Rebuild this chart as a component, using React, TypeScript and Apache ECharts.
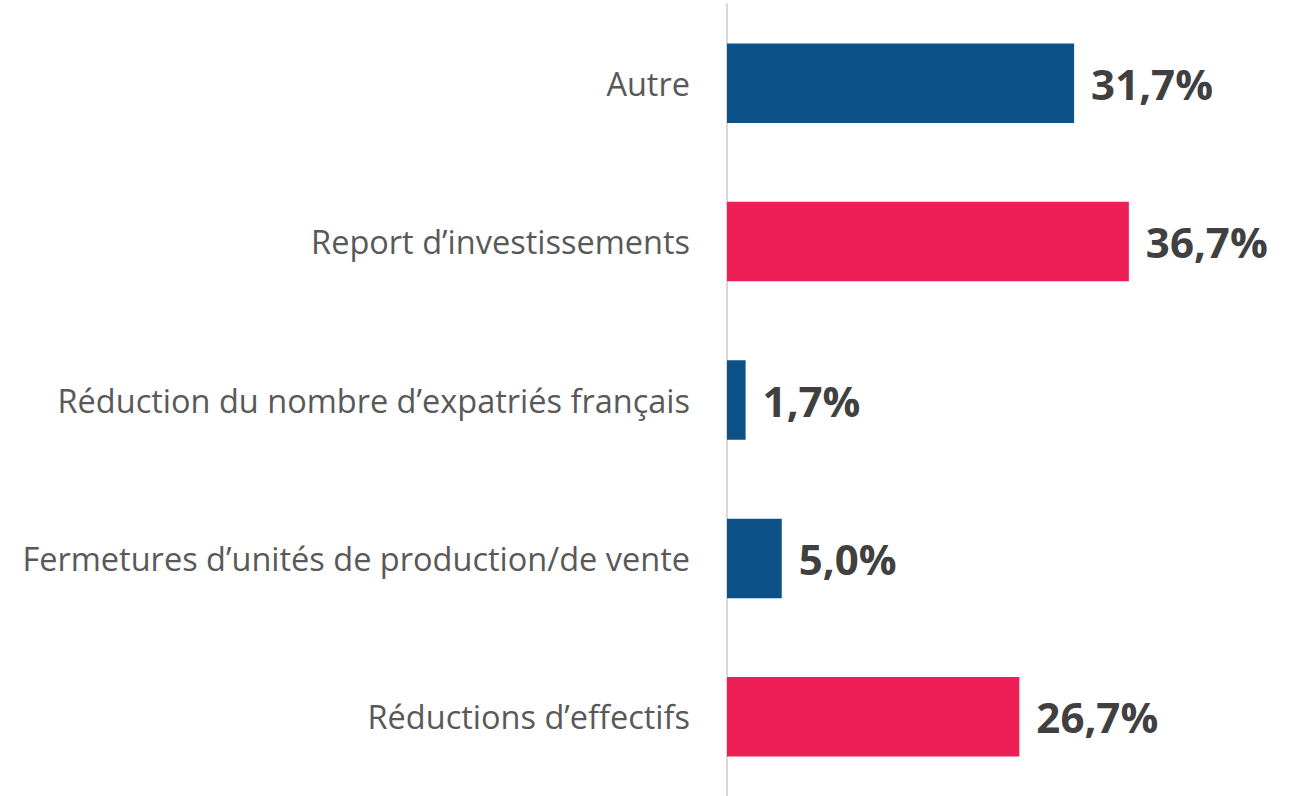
import React, { useEffect, useRef } from "react";
import * as echarts from "echarts";

const categories = [
  "Réductions d’effectifs",
  "Fermetures d’unités de production/de vente",
  "Réduction du nombre d’expatriés français",
  "Report d’investissements",
  "Autre",
];
const values = [26.7, 5.0, 1.7, 36.7, 31.7];
const barColors = ["#EE1F56", "#0D5189", "#0D5189", "#EE1F56", "#0D5189"];

export default function App() {
  const ref = useRef<HTMLDivElement>(null);
  useEffect(() => {
    const chart = echarts.init(ref.current!, null, { renderer: "svg" });
    chart.setOption({
      animation: false,
      grid: { left: 727, top: 4, width: 547.5, height: 796.4 },
      xAxis: { type: "value", min: 0, max: 50, show: false },
      yAxis: {
        type: "category",
        data: categories,
        axisLine: { show: true, lineStyle: { color: "#D9D9D9", width: 2 } },
        axisTick: { show: false },
        axisLabel: {
          color: "#595959",
          fontFamily: "Open Sans",
          fontSize: 32.5,
          margin: 37,
        },
      },
      series: [
        {
          type: "bar",
          data: values.map((v, i) => ({ value: v, itemStyle: { color: barColors[i] } })),
          barWidth: "50.2%",
          label: {
            show: true,
            position: "right",
            distance: 17,
            color: "#404040",
            fontFamily: "Open Sans",
            fontWeight: "bold",
            fontSize: 42,
            formatter: (p: any) => p.value.toFixed(1).replace(".", ",") + "%",
          },
        },
      ],
    });
    return () => chart.dispose();
  }, []);
  return (
    <div
      ref={ref}
      style={{ position: "absolute", left: 0, top: 0, width: 1294, height: 796, background: "#fff" }}
    />
  );
}
